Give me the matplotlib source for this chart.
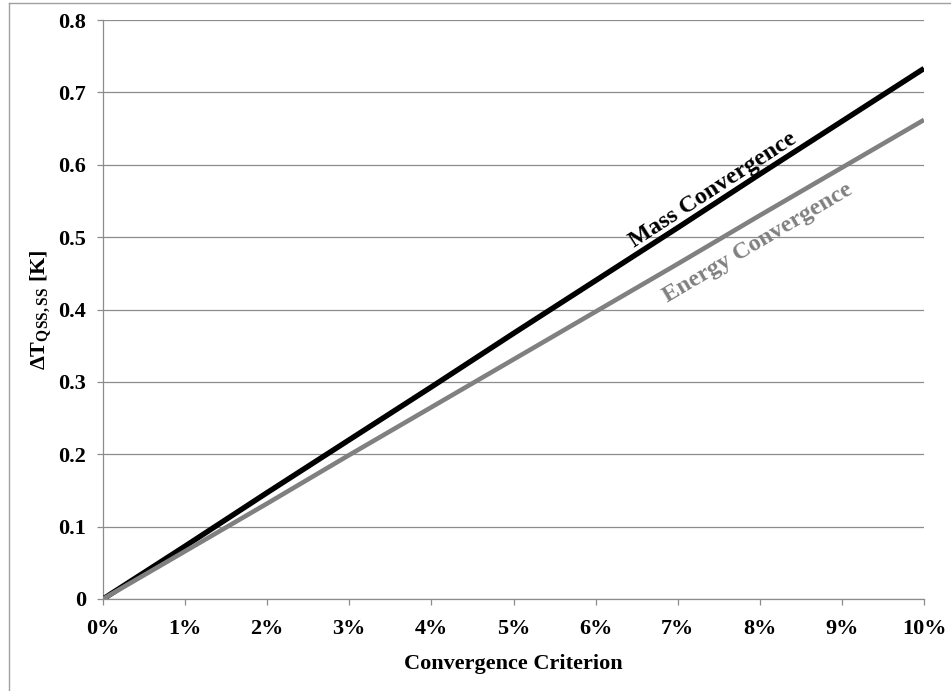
import matplotlib.pyplot as plt
from matplotlib.lines import Line2D

plt.rcParams['font.family'] = ['Liberation Serif', 'DejaVu Serif']
plt.rcParams['font.weight'] = 'bold'
plt.rcParams['mathtext.fontset'] = 'custom'
plt.rcParams['mathtext.rm'] = 'Liberation Serif:bold'
plt.rcParams['mathtext.it'] = 'Liberation Serif:bold'
plt.rcParams['mathtext.bf'] = 'Liberation Serif:bold'

# convergence criterion in percent
criterion = [0, 1, 2, 3, 4, 5, 6, 7, 8, 9, 10]
mass_dt = [0, 0.073, 0.147, 0.220, 0.293, 0.367, 0.440, 0.513, 0.587, 0.660, 0.733]
energy_dt = [0, 0.066, 0.132, 0.199, 0.265, 0.331, 0.397, 0.463, 0.530, 0.596, 0.662]
x_labels = ['0%', '1%', '2%', '3%', '4%', '5%', '6%', '7%', '8%', '9%', '10%']
y_ticks = [0, 0.1, 0.2, 0.3, 0.4, 0.5, 0.6, 0.7, 0.8]
y_labels = ['0', '0.1', '0.2', '0.3', '0.4', '0.5', '0.6', '0.7', '0.8']

grid_col = '#8c8c8c'

fig = plt.figure(figsize=(9.51, 6.91), dpi=100)
ax = fig.add_axes([103 / 951, 1 - 599 / 691, 821 / 951, 579 / 691])

ax.plot(criterion, mass_dt, color='black', lw=3.9, solid_capstyle='butt', zorder=3)
ax.plot(criterion, energy_dt, color='#808080', lw=3.3, solid_capstyle='butt', zorder=3)

ax.set_xlim(0, 10)
ax.set_ylim(0, 0.8)
ax.set_xticks(criterion)
ax.set_xticklabels(x_labels)
ax.set_yticks(y_ticks)
ax.set_yticklabels(y_labels)

ax.grid(axis='y', color=grid_col, lw=0.9)
ax.set_axisbelow(True)
for side in ['top', 'right']:
    ax.spines[side].set_visible(False)
for side in ['left', 'bottom']:
    ax.spines[side].set_color(grid_col)
    ax.spines[side].set_linewidth(0.9)
ax.tick_params(axis='both', color=grid_col, length=4.3, width=0.9, labelsize=16)
ax.tick_params(axis='x', pad=10)
ax.tick_params(axis='y', pad=8)

ax.set_xlabel('Convergence Criterion', fontsize=16, fontweight='bold', labelpad=11)
ax.set_ylabel(r'$\Delta\mathrm{T}_{\mathrm{QSS,SS}}$ [K]', fontsize=16,
              fontweight='bold', labelpad=3)

ax.text(7.43, 0.565, 'Mass Convergence', rotation=33, ha='center', va='center',
        fontsize=17.5, fontweight='bold', color='black', rotation_mode='anchor')
ax.text(7.97, 0.492, 'Energy Convergence', rotation=30.5, ha='center', va='center',
        fontsize=17.5, fontweight='bold', color='#808080', rotation_mode='anchor')

# chart frame border (top and left edges)
fig.add_artist(Line2D([9 / 951, 9 / 951], [0, 1 - 3 / 691], transform=fig.transFigure,
                      color='#a0a0a0', lw=1))
fig.add_artist(Line2D([9 / 951, 1], [1 - 3 / 691, 1 - 3 / 691], transform=fig.transFigure,
                      color='#a0a0a0', lw=1))

fig.savefig('out.png', dpi=100)
